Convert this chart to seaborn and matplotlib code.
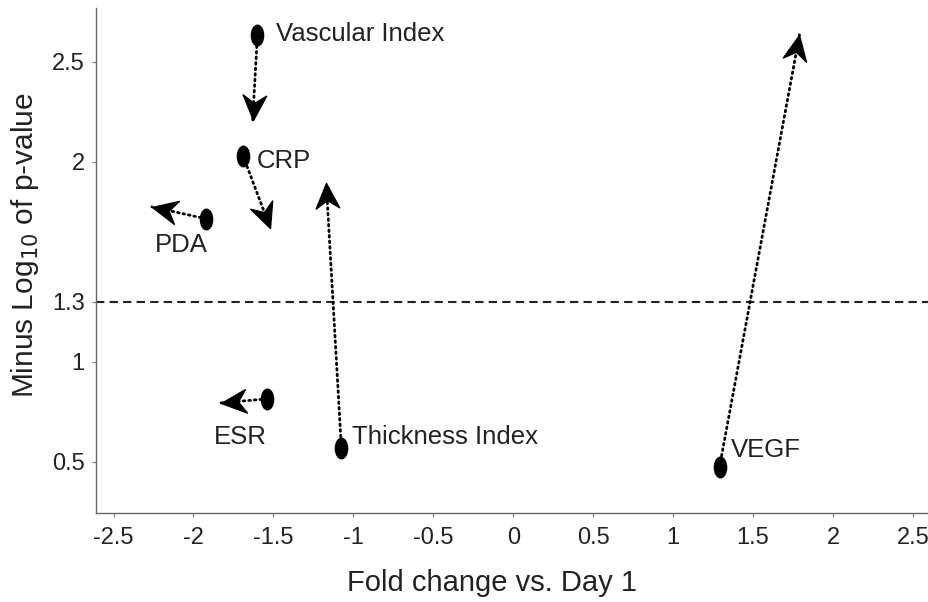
import numpy as np
import pandas as pd
import matplotlib
matplotlib.use('Agg')
import matplotlib.pyplot as plt
import seaborn as sns
from matplotlib.path import Path
from matplotlib.markers import MarkerStyle
from matplotlib.transforms import Affine2D

# values
markers_names = ['Vascular Index', 'CRP', 'PDA', 'ESR', 'Thickness Index', 'VEGF']
fold_start = [-1.60, -1.69, -1.92, -1.54, -1.075, 1.29]
logp_start = [2.635, 2.03, 1.715, 0.815, 0.57, 0.475]
fold_end = [-1.63, -1.52, -2.26, -1.83, -1.17, 1.79]
logp_end = [2.21, 1.67, 1.775, 0.795, 1.895, 2.635]
# label offsets in pixels (dx, dy) relative to the start point
label_offsets = [(19, 1), (14, -5), (-25, -26), (-27, -38), (11, 11), (11, 17)]
label_ha = ['left', 'left', 'center', 'center', 'left', 'left']

x_ticks = [-2.5, -2, -1.5, -1, -0.5, 0, 0.5, 1, 1.5, 2, 2.5]
x_ticklabels = ['-2.5', '-2', '-1.5', '-1', '-0.5', '0', '0.5', '1', '1.5', '2', '2.5']
y_ticks = [0.5, 1, 1.3, 2, 2.5]
y_ticklabels = ['0.5', '1', '1.3', '2', '2.5']
threshold = 1.3

df = pd.DataFrame({'name': markers_names, 'fold': fold_start, 'logp': logp_start})

sns.set_theme(style='ticks')
plt.rcParams['font.family'] = ['Liberation Sans', 'DejaVu Sans']

fig = plt.figure(figsize=(9.29, 6.02), dpi=100)
ax = fig.add_axes([0.1033, 0.148, 0.8967, 0.839])
ax.set_xlim(-2.61, 2.6)
ax.set_ylim(0.245, 2.77)

# elliptical dot marker (taller than wide)
ell = Path.unit_circle().transformed(Affine2D().scale(0.62, 1.0))
sns.scatterplot(data=df, x='fold', y='logp', marker=ell, s=250, color='black',
                edgecolor='black', linewidth=0, ax=ax, zorder=4, legend=False)

# barbed arrowhead pointing along +x with tip at the origin
head = Path([(0, 0), (-1, 0.47), (-0.68, 0), (-1, -0.47), (0, 0)],
            [Path.MOVETO, Path.LINETO, Path.LINETO, Path.LINETO, Path.CLOSEPOLY])

for x0, y0, x1, y1 in zip(fold_start, logp_start, fold_end, logp_end):
    ax.plot([x0, x1], [y0, y1], linestyle=(0, (0.6, 1.4)), color='black', lw=2.0,
            dash_capstyle='round', zorder=3)
    p0 = ax.transData.transform((x0, y0))
    p1 = ax.transData.transform((x1, y1))
    ang = np.degrees(np.arctan2(p1[1] - p0[1], p1[0] - p0[0]))
    m = MarkerStyle(head, transform=Affine2D().rotate_deg(ang))
    ax.plot([x1], [y1], marker=m, markersize=36, color='black', linestyle='none', zorder=5)

for name, x0, y0, (dx, dy), ha in zip(markers_names, fold_start, logp_start, label_offsets, label_ha):
    ax.annotate(name, (x0, y0), xytext=(dx * 0.72, dy * 0.72), textcoords='offset points',
                ha=ha, va='center', fontsize=18.5, color='#222222')

ax.axhline(threshold, color='#222222', linestyle=(0, (4, 2.5)), lw=1.5, zorder=2)

ax.set_xticks(x_ticks)
ax.set_xticklabels(x_ticklabels)
ax.set_yticks(y_ticks)
ax.set_yticklabels(y_ticklabels)
ax.tick_params(axis='both', labelsize=17, colors='#222222', length=3, width=0.8)
ax.tick_params(axis='both', color='#777777')
ax.tick_params(axis='x', pad=7)
ax.tick_params(axis='y', pad=5)
ax.set_xlabel('Fold change vs. Day 1', fontsize=21, color='#222222')
ax.set_ylabel('Minus Log$_{10}$ of p-value', fontsize=21.5, color='#222222')
ax.xaxis.set_label_coords(0.475, -0.112)
ax.yaxis.set_label_coords(-0.066, 0.531)

sns.despine(ax=ax)
for s in ['left', 'bottom']:
    ax.spines[s].set_color('#666666')
    ax.spines[s].set_linewidth(1.0)

fig.savefig('out.png', dpi=100)
